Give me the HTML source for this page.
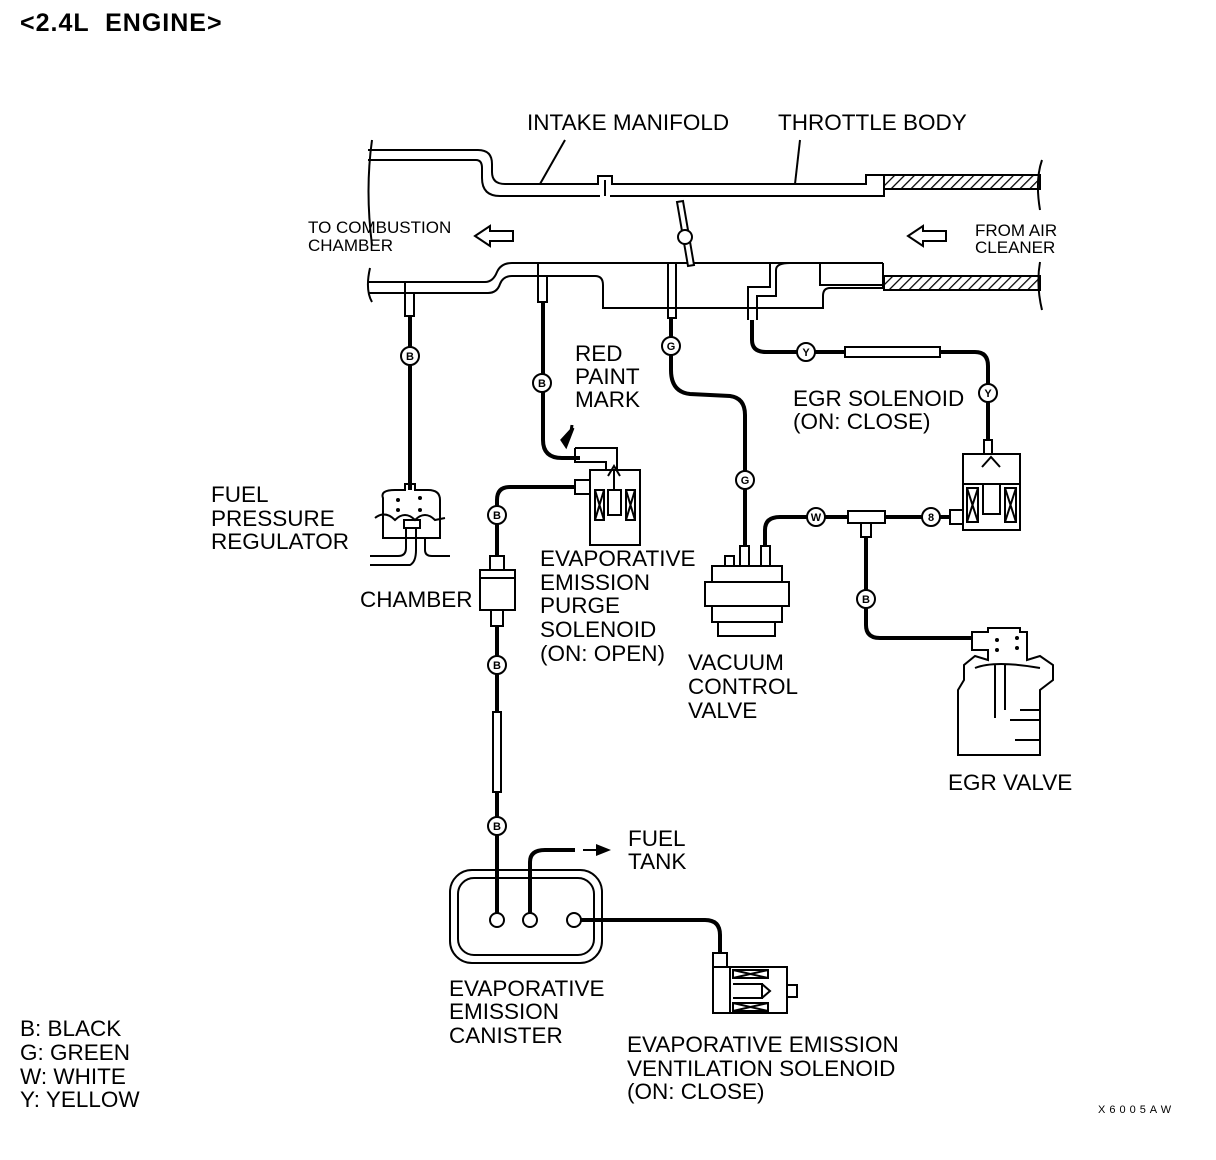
<!DOCTYPE html>
<html><head><meta charset="utf-8"><style>
html,body{margin:0;padding:0;background:#fff;}
svg{display:block;}
text{font-family:"Liberation Sans",Arial,sans-serif;fill:#000;}
.t{font-size:22.5px;}
.s{font-size:17px;}
.l{fill:none;stroke:#000;stroke-width:2;}
.h{fill:none;stroke:#000;stroke-width:4;}
.c{fill:#fff;stroke:#000;stroke-width:2;}
.ct{font-size:11px;text-anchor:middle;font-weight:bold;}
</style></head><body>
<svg width="1216" height="1160" viewBox="0 0 1216 1160" xmlns="http://www.w3.org/2000/svg">
<defs>
<pattern id="hatch" width="7" height="7" patternUnits="userSpaceOnUse" patternTransform="rotate(45)">
<line x1="0" y1="0" x2="0" y2="7" stroke="#000" stroke-width="2.5"/>
</pattern>
</defs>
<text x="20" y="31" style="font-size:25px;font-weight:bold;letter-spacing:1px;word-spacing:8px">&lt;2.4L ENGINE&gt;</text>

<!-- labels -->
<text class="t" x="527" y="130">INTAKE MANIFOLD</text>
<text class="t" x="778" y="130">THROTTLE BODY</text>
<line class="l" x1="565" y1="140" x2="540" y2="184"/>
<line class="l" x1="800" y1="140" x2="795" y2="184"/>
<text class="s" x="308" y="233">TO COMBUSTION</text>
<text class="s" x="308" y="251">CHAMBER</text>
<text class="s" x="975" y="236">FROM AIR</text>
<text class="s" x="975" y="253">CLEANER</text>

<!-- manifold top wall -->
<path class="l" d="M368 150 H478 Q492 150 492 164 V172 Q492 184 505 184 H598 V176 H612 V184 H866 V175 H884"/>
<path class="l" d="M368 160 H476 Q482 160 482 168 V178 Q482 196 500 196 H600 M610 196 H884 V190"/>
<line class="l" x1="605" y1="180" x2="605" y2="196"/>
<rect x="884" y="175" width="156" height="14" fill="url(#hatch)" stroke="#000" stroke-width="2"/>
<!-- manifold bottom wall -->
<path class="l" d="M368 282 H485 Q493 282 497 272 Q501 263 512 263 H820 V285 H883"/>
<path class="l" d="M368 293 H488 Q497 293 500 284 Q503 276 512 276 H595 Q603 276 603 285 V308 H823 V296 Q823 288 830 288 H883"/>
<line class="l" x1="883" y1="263" x2="883" y2="288"/>
<line class="l" x1="820" y1="263" x2="883" y2="263"/>
<rect x="884" y="276" width="156" height="14" fill="url(#hatch)" stroke="#000" stroke-width="2"/>
<path class="l" d="M372 140 Q365 190 372 245 M370 268 Q365 290 372 302 M1042 160 Q1035 180 1040 210 M1040 262 Q1036 285 1042 310"/>
<!-- arrows -->
<path class="l" d="M475 236 L490 226 V231 H513 V241 H490 V246 Z"/>
<path class="l" d="M908 236 L923 226 V231 H946 V241 H923 V246 Z"/>
<!-- throttle plate -->
<path d="M677 202 L683 201 L694 265 L688 266 Z" fill="#fff" stroke="#000" stroke-width="2"/>
<circle class="c" cx="685" cy="237" r="7"/>

<!-- ports -->
<path class="l" d="M405 282 V316 H414 V293"/>
<path class="l" d="M538 263 V302 H547 V276"/>
<path class="l" d="M668 263 V318 H676 V263"/>
<path class="l" d="M748 320 V287 H770 V263 M757 320 V296 H776 V270 Q776 263 790 263"/>

<!-- hoses -->
<path class="h" d="M410 316 V490"/>
<circle class="c" cx="410" cy="356" r="9"/><text class="ct" x="410" y="360">B</text>
<path class="h" d="M543 302 V440 Q543 458 562 458 H580"/>
<circle class="c" cx="542" cy="383" r="9"/><text class="ct" x="542" y="387">B</text>
<path class="h" d="M671 318 V370 Q671 392 690 394 L730 396 Q745 398 745 415 V548"/>
<circle class="c" cx="671" cy="346" r="9"/><text class="ct" x="671" y="350">G</text>
<circle class="c" cx="745" cy="480" r="9"/><text class="ct" x="745" y="484">G</text>
<path class="h" d="M752 320 V340 Q752 352 766 352 H845"/>
<rect x="845" y="347" width="95" height="10" fill="#fff" stroke="#000" stroke-width="2"/>
<path class="h" d="M940 352 H975 Q988 352 988 366 V442"/>
<circle class="c" cx="806" cy="352" r="9"/><text class="ct" x="806" y="356">Y</text>
<circle class="c" cx="988" cy="393" r="9"/><text class="ct" x="988" y="397">Y</text>
<!-- W / T line -->
<path class="h" d="M765 548 V530 Q765 517 780 517 H848 M885 517 H950"/>
<rect x="848" y="511" width="37" height="12" fill="#fff" stroke="#000" stroke-width="2"/>
<rect x="861" y="523" width="10" height="14" fill="#fff" stroke="#000" stroke-width="2"/>
<path class="h" d="M866 537 V625 Q866 638 880 638 H972"/>
<circle class="c" cx="816" cy="517" r="9"/><text class="ct" x="816" y="521">W</text>
<circle class="c" cx="931" cy="517" r="9"/><text class="ct" x="931" y="521">8</text>
<circle class="c" cx="866" cy="599" r="9"/><text class="ct" x="866" y="603">B</text>

<!-- EGR solenoid -->
<rect x="984" y="440" width="8" height="14" fill="#fff" stroke="#000" stroke-width="2"/>
<rect x="963" y="454" width="57" height="76" fill="#fff" stroke="#000" stroke-width="2"/>
<line class="l" x1="963" y1="484" x2="1020" y2="484"/>
<path class="l" d="M967 488 H978 V522 H967 Z M967 488 L978 522 M978 488 L967 522 M1005 488 H1016 V522 H1005 Z M1005 488 L1016 522 M1016 488 L1005 522"/>
<rect x="983" y="484" width="17" height="30" fill="#fff" stroke="#000" stroke-width="2"/>
<path class="l" d="M982 467 L991 457 L1000 467"/>
<rect x="950" y="510" width="13" height="14" fill="#fff" stroke="#000" stroke-width="2"/>

<!-- EGR valve -->
<path class="l" d="M972 632 H988 V628 H1020 V632 H1027 V660 L1040 656 L1053 665 V680 L1040 690 V755 H958 V690 L964 680 V665 L975 656 L988 660 V650 H972 Z"/>
<path class="l" d="M975 668 Q995 660 1040 668 M995 665 V718 M1005 665 V710 M1020 710 H1040 M1010 720 H1040 V740 H1015"/>
<circle cx="997" cy="640" r="2" fill="#000"/><circle cx="997" cy="650" r="2" fill="#000"/><circle cx="1017" cy="638" r="2" fill="#000"/><circle cx="1017" cy="648" r="2" fill="#000"/>

<!-- VCV -->
<rect x="740" y="546" width="9" height="20" fill="#fff" stroke="#000" stroke-width="2"/>
<rect x="761" y="546" width="9" height="20" fill="#fff" stroke="#000" stroke-width="2"/>
<rect x="725" y="556" width="9" height="10" fill="#fff" stroke="#000" stroke-width="2"/>
<rect x="712" y="566" width="70" height="56" fill="#fff" stroke="#000" stroke-width="2"/>
<rect x="705" y="582" width="84" height="24" fill="#fff" stroke="#000" stroke-width="2"/>
<rect x="718" y="622" width="57" height="14" fill="#fff" stroke="#000" stroke-width="2"/>

<!-- purge solenoid -->
<path class="l" d="M575 448 H617 V470 M575 448 V462 H606 V470"/>
<rect x="590" y="470" width="50" height="75" fill="#fff" stroke="#000" stroke-width="2"/>
<rect x="575" y="480" width="15" height="14" fill="#fff" stroke="#000" stroke-width="2"/>
<path class="l" d="M595 490 H604 V520 H595 Z M595 490 L604 520 M604 490 L595 520 M626 490 H635 V520 H626 Z M626 490 L635 520 M635 490 L626 520 M608 490 H621 V515 H608 Z M614 470 V490 M608 476 L614 466 L620 476"/>
<path d="M573 428 L566 446 L562 440 Z M572 425 Q571 434 567 440" stroke="#000" stroke-width="3" fill="#000"/>

<!-- purge line and chamber -->
<path class="h" d="M575 487 H510 Q497 487 497 500 V570"/>
<circle class="c" cx="497" cy="515" r="9"/><text class="ct" x="497" y="519">B</text>
<rect x="490" y="556" width="14" height="14" fill="#fff" stroke="#000" stroke-width="2"/>
<rect x="480" y="570" width="35" height="40" fill="#fff" stroke="#000" stroke-width="2"/>
<line class="l" x1="480" y1="578" x2="515" y2="578"/>
<rect x="491" y="610" width="12" height="16" fill="#fff" stroke="#000" stroke-width="2"/>
<path class="h" d="M497 626 V712"/>
<circle class="c" cx="497" cy="665" r="9"/><text class="ct" x="497" y="669">B</text>
<rect x="493" y="712" width="8" height="80" fill="#fff" stroke="#000" stroke-width="2"/>
<path class="h" d="M497 792 V920"/>
<circle class="c" cx="497" cy="826" r="9"/><text class="ct" x="497" y="830">B</text>

<!-- fuel pressure regulator -->
<path class="l" d="M383 498 Q380 490 395 490 H405 V484 H415 V490 H428 Q440 490 440 500 V538 H383 Z M375 518 Q385 510 395 520 Q405 510 415 520 Q425 510 435 520 L445 518"/>
<path class="l" d="M404 520 H420 V528 H404 Z M406 528 V548 Q406 556 398 556 H370 M416 528 V550 Q416 562 410 565 H370 M425 538 V550 Q425 556 432 556 H450"/>
<circle cx="398" cy="500" r="2" fill="#000"/><circle cx="398" cy="510" r="2" fill="#000"/><circle cx="420" cy="498" r="2" fill="#000"/><circle cx="420" cy="510" r="2" fill="#000"/>

<!-- canister -->
<rect x="450" y="870" width="152" height="93" rx="22" class="l"/>
<rect x="458" y="878" width="136" height="77" rx="16" class="l"/>
<circle class="c" cx="497" cy="920" r="7"/>
<circle class="c" cx="530" cy="920" r="7"/>
<circle class="c" cx="574" cy="920" r="7"/>
<path class="h" d="M530 913 V862 Q530 850 545 850 H575"/>
<line x1="583" y1="850" x2="596" y2="850" stroke="#000" stroke-width="2"/>
<path d="M596 844 L611 850 L596 856 Z" fill="#000"/>
<path class="h" d="M581 920 H705 Q720 920 720 935 V955"/>
<!-- vent solenoid -->
<rect x="713" y="953" width="14" height="22" fill="#fff" stroke="#000" stroke-width="2"/>
<rect x="713" y="967" width="74" height="46" fill="#fff" stroke="#000" stroke-width="2"/>
<path class="l" d="M730 967 V1013 M733 970 H768 V978 H733 Z M733 970 L768 978 M768 970 L733 978 M733 1003 H768 V1011 H733 Z M733 1003 L768 1011 M768 1003 L733 1011 M733 984 H762 V998 H733 M762 984 L770 991 L762 998 M787 985 H797 V997 H787"/>

<!-- text -->
<text class="t" x="575" y="361">RED</text>
<text class="t" x="575" y="384">PAINT</text>
<text class="t" x="575" y="407">MARK</text>
<text class="t" x="793" y="406">EGR SOLENOID</text>
<text class="t" x="793" y="429">(ON: CLOSE)</text>
<text class="t" x="211" y="502">FUEL</text>
<text class="t" x="211" y="526">PRESSURE</text>
<text class="t" x="211" y="549">REGULATOR</text>
<text class="t" x="360" y="607">CHAMBER</text>
<text class="t" x="540" y="566">EVAPORATIVE</text>
<text class="t" x="540" y="590">EMISSION</text>
<text class="t" x="540" y="613">PURGE</text>
<text class="t" x="540" y="637">SOLENOID</text>
<text class="t" x="540" y="661">(ON: OPEN)</text>
<text class="t" x="688" y="670">VACUUM</text>
<text class="t" x="688" y="694">CONTROL</text>
<text class="t" x="688" y="718">VALVE</text>
<text class="t" x="948" y="790">EGR VALVE</text>
<text class="t" x="628" y="846">FUEL</text>
<text class="t" x="628" y="869">TANK</text>
<text class="t" x="449" y="996">EVAPORATIVE</text>
<text class="t" x="449" y="1019">EMISSION</text>
<text class="t" x="449" y="1043">CANISTER</text>
<text class="t" x="627" y="1052">EVAPORATIVE EMISSION</text>
<text class="t" x="627" y="1076">VENTILATION SOLENOID</text>
<text class="t" x="627" y="1099">(ON: CLOSE)</text>
<text class="t" x="20" y="1036">B: BLACK</text>
<text class="t" x="20" y="1060">G: GREEN</text>
<text class="t" x="20" y="1084">W: WHITE</text>
<text class="t" x="20" y="1107">Y: YELLOW</text>
<text x="1098" y="1113" style="font-size:11px;letter-spacing:4px">X6005AW</text>
</svg>
</body></html>
